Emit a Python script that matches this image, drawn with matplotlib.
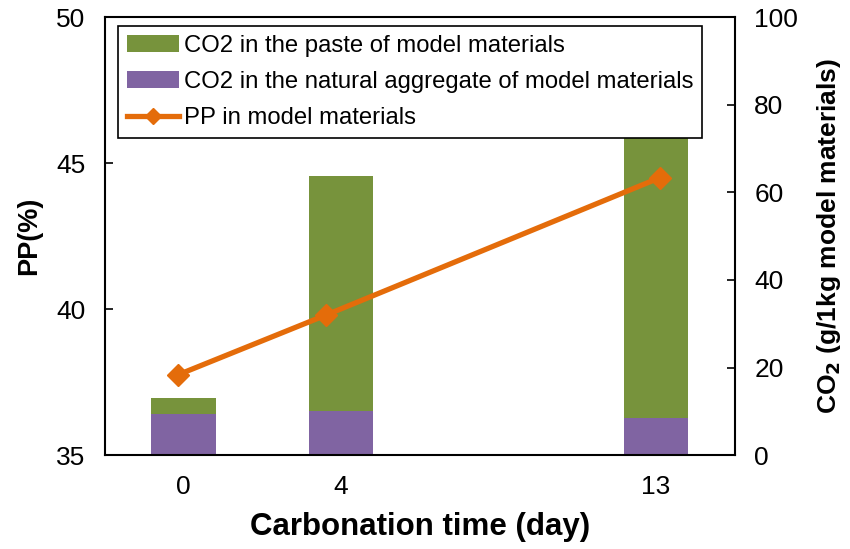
import matplotlib.pyplot as plt

plt.rcParams['font.family'] = ['Liberation Sans', 'DejaVu Sans']

days = [0, 4, 13]
# bars sit on a category axis with an empty slot between 4 and 13
bar_slots = [0, 1, 3]
co2_paste = [3.6, 53.7, 71.1]
co2_aggregate = [9.4, 10.0, 8.4]
pp = [37.75, 39.8, 44.5]

green = '#77933C'
purple = '#8064A2'
orange = '#E46C0A'

fig = plt.figure(figsize=(8.5, 5.49), dpi=100)
rect = [0.1235, 0.171, 0.741, 0.798]

# bars: category x axis, CO2 on the right
axb = fig.add_axes(rect)
b1 = axb.bar(bar_slots, co2_aggregate, width=0.41, color=purple)
b2 = axb.bar(bar_slots, co2_paste, width=0.41, bottom=co2_aggregate, color=green)
axb.set_xlim(-0.5, 3.5)
axb.set_xticks(bar_slots)
axb.set_xticklabels([str(d) for d in days])
axb.set_ylim(0, 100)
axb.set_yticks(range(0, 101, 20))
axb.yaxis.tick_right()
axb.yaxis.set_label_position('right')
axb.tick_params(axis='y', direction='in', length=6, width=1.2, labelsize=19, pad=14)
axb.tick_params(axis='x', length=0, labelsize=19, pad=14)
for s in axb.spines.values():
    s.set_linewidth(1.5)
axb.set_xlabel('Carbonation time (day)', fontsize=22.5, fontweight='bold', labelpad=10)
axb.set_ylabel('CO$_\\mathbf{2}$ (g/1kg model materials)', fontsize=19, fontweight='bold', labelpad=12)

# line: numeric x axis, PP on the left
axl = fig.add_axes(rect, frameon=False)
axl.patch.set_visible(False)
l1, = axl.plot(days, pp, color=orange, lw=3.8, marker='D', ms=11)
axl.set_xlim(-1.97, 15.02)
axl.set_ylim(35, 50)
axl.set_yticks([35, 40, 45, 50])
axl.set_xticks([])
axl.tick_params(axis='y', direction='in', length=6, width=1.2, labelsize=19, pad=14)
axl.set_ylabel('PP(%)', fontsize=19.5, fontweight='bold', labelpad=10)

leg = axl.legend([b2, b1, l1],
                 ['CO2 in the paste of model materials',
                  'CO2 in the natural aggregate of model materials',
                  'PP in model materials'],
                 loc='upper left', bbox_to_anchor=(0.021, 0.979), fontsize=17.2,
                 frameon=True, fancybox=False, edgecolor='black', framealpha=1,
                 handlelength=2.2, handletextpad=0.22, borderaxespad=0,
                 labelspacing=0.6, borderpad=0.35, markerscale=0.7)
leg.get_frame().set_linewidth(1.2)

fig.savefig('out.png', dpi=100)
